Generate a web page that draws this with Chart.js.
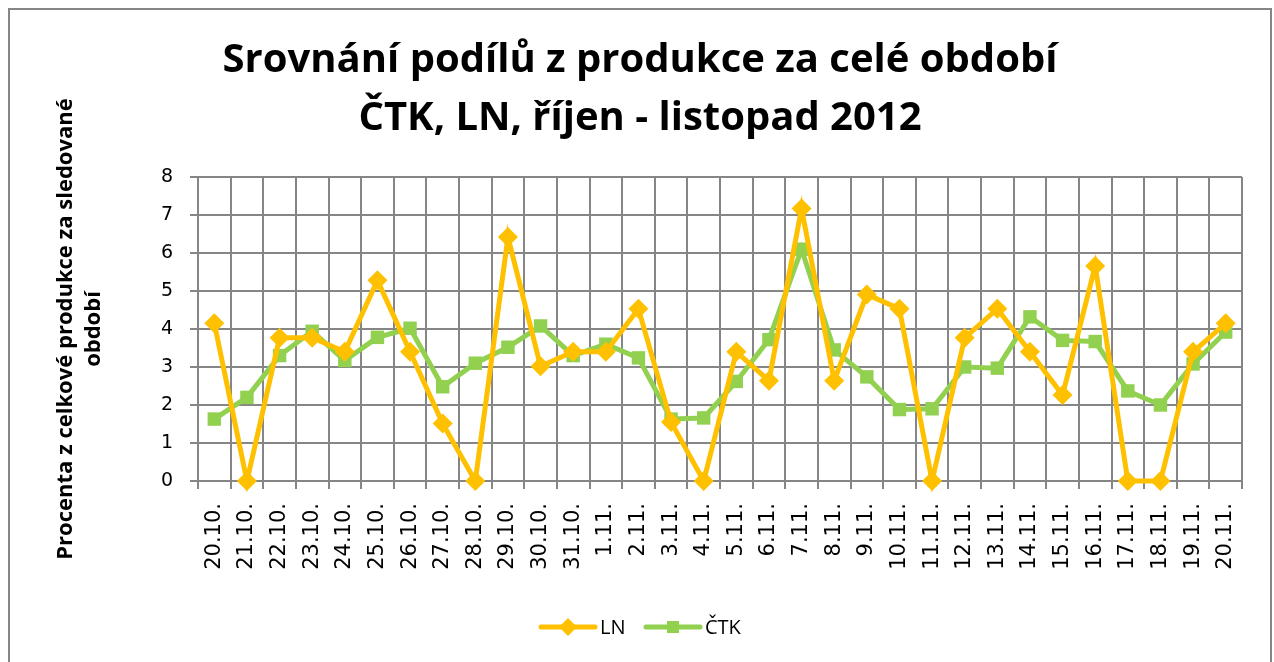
<!DOCTYPE html>
<html>
<head>
<meta charset="utf-8">
<script src="https://cdn.jsdelivr.net/npm/chart.js@4.4.1/dist/chart.umd.min.js"></script>
<style>
html,body{margin:0;padding:0;background:#fff;}
#wrap{width:1274px;height:662px;position:relative;}
</style>
</head>
<body>
<div id="wrap"><canvas id="c" width="1274" height="662"></canvas></div>
<script>
const categories = ["20.10.","21.10.","22.10.","23.10.","24.10.","25.10.","26.10.","27.10.","28.10.","29.10.","30.10.","31.10.","1.11.","2.11.","3.11.","4.11.","5.11.","6.11.","7.11.","8.11.","9.11.","10.11.","11.11.","12.11.","13.11.","14.11.","15.11.","16.11.","17.11.","18.11.","19.11.","20.11."];
const lnValues = [4.15,0,3.77,3.77,3.4,5.28,3.4,1.51,0,6.42,3.02,3.4,3.4,4.53,1.55,0,3.4,2.64,7.17,2.64,4.91,4.53,0,3.77,4.53,3.4,2.26,5.66,0,0,3.4,4.15];
const ctkValues = [1.63,2.2,3.3,3.94,3.17,3.78,4.02,2.48,3.1,3.52,4.08,3.3,3.6,3.24,1.63,1.66,2.62,3.72,6.1,3.45,2.74,1.88,1.9,3.0,2.97,4.32,3.7,3.67,2.37,2.0,3.08,3.92];
const yTicks = [0,1,2,3,4,5,6,7,8];
const titleLines = ["Srovnání podílů z produkce za celé období","ČTK, LN, říjen - listopad 2012"];
const yTitle = ["Procenta z celkové produkce za sledované","období"];
const seriesNames = ["LN","ČTK"];
const colors = {ln:"#FFC000", ctk:"#92D050", grid:"#868686"};

const frame = {
  id:'frame',
  beforeDraw(chart){
    const ctx = chart.ctx;
    ctx.save();
    ctx.fillStyle = '#fff';
    ctx.fillRect(0,0,chart.width,chart.height);
    ctx.strokeStyle = colors.grid;
    ctx.lineWidth = 2;
    ctx.strokeRect(9,9,1262,700);
    ctx.restore();
  },
  afterDraw(chart){
    const ctx = chart.ctx;
    ctx.save();
    ctx.fillStyle = '#000';
    ctx.textAlign = 'center';
    ctx.textBaseline = 'middle';
    ctx.font = 'bold 40px "Open Sans"';
    ctx.fillText(titleLines[0], 640, 61);
    ctx.fillText(titleLines[1], 640, 119);
    const ds = chart.data.datasets;
    const y = 627;
    const items = [{x:541, ds:ds[0], style:'diamond'},{x:646, ds:ds[1], style:'square'}];
    items.forEach(it=>{
      ctx.strokeStyle = it.ds.borderColor;
      ctx.lineWidth = 5;
      ctx.lineCap = 'round';
      ctx.beginPath();
      ctx.moveTo(it.x, y); ctx.lineTo(it.x+54, y); ctx.stroke();
      ctx.fillStyle = it.ds.borderColor;
      const cx = it.x+27;
      if(it.style==='diamond'){
        ctx.beginPath();
        ctx.moveTo(cx-9,y); ctx.lineTo(cx,y-9); ctx.lineTo(cx+9,y); ctx.lineTo(cx,y+9); ctx.closePath(); ctx.fill();
      } else {
        ctx.fillRect(cx-6,y-6,12,12);
      }
      ctx.fillStyle = '#000';
      ctx.textAlign = 'left';
      ctx.font = '20px "Open Sans"';
      ctx.fillText(it.ds.label, it.x+59, y+1);
    });
    ctx.restore();
  }
};

new Chart(document.getElementById('c'), {
  type:'line',
  data:{
    labels: categories,
    datasets:[
      {label:seriesNames[0], data:lnValues, borderColor:colors.ln, backgroundColor:colors.ln, borderWidth:5,
       pointStyle:'rectRot', pointRadius:10, pointHoverRadius:10, pointBorderWidth:0, tension:0, clip:false},
      {label:seriesNames[1], data:ctkValues, borderColor:colors.ctk, backgroundColor:colors.ctk, borderWidth:5,
       pointStyle:'rect', pointRadius:9.5, pointHoverRadius:9.5, pointBorderWidth:0, tension:0, clip:false}
    ]
  },
  options:{
    responsive:false,
    animation:false,
    events:[],
    layout:{padding:{left:10, right:32, top:177, bottom:81}},
    plugins:{legend:{display:false}, title:{display:false}, tooltip:{enabled:false}},
    scales:{
      x:{
        offset:true,
        grid:{offset:true, color:colors.grid, lineWidth:2, tickLength:8, drawTicks:true},
        border:{color:colors.grid, width:2},
        ticks:{minRotation:90, maxRotation:90, autoSkip:false, color:'#000', padding:14,
               font:{family:'"DejaVu Sans"', size:21}},
        afterFit(s){ s.height = 100; }
      },
      y:{
        min:0, max:8,
        afterBuildTicks(s){ s.ticks = yTicks.map(v=>({value:v})); },
        grid:{color:colors.grid, lineWidth:2, tickLength:8},
        border:{color:colors.grid, width:2},
        ticks:{color:'#000', padding:17, font:{family:'"DejaVu Sans"', size:19}},
        title:{display:true, text:yTitle, color:'#000', padding:{top:41}, font:{family:'"Open Sans"', weight:'bold', size:22, lineHeight:1.3}},
        afterFit(s){ s.width = 188; }
      }
    }
  },
  plugins:[frame]
});
</script>
</body>
</html>
